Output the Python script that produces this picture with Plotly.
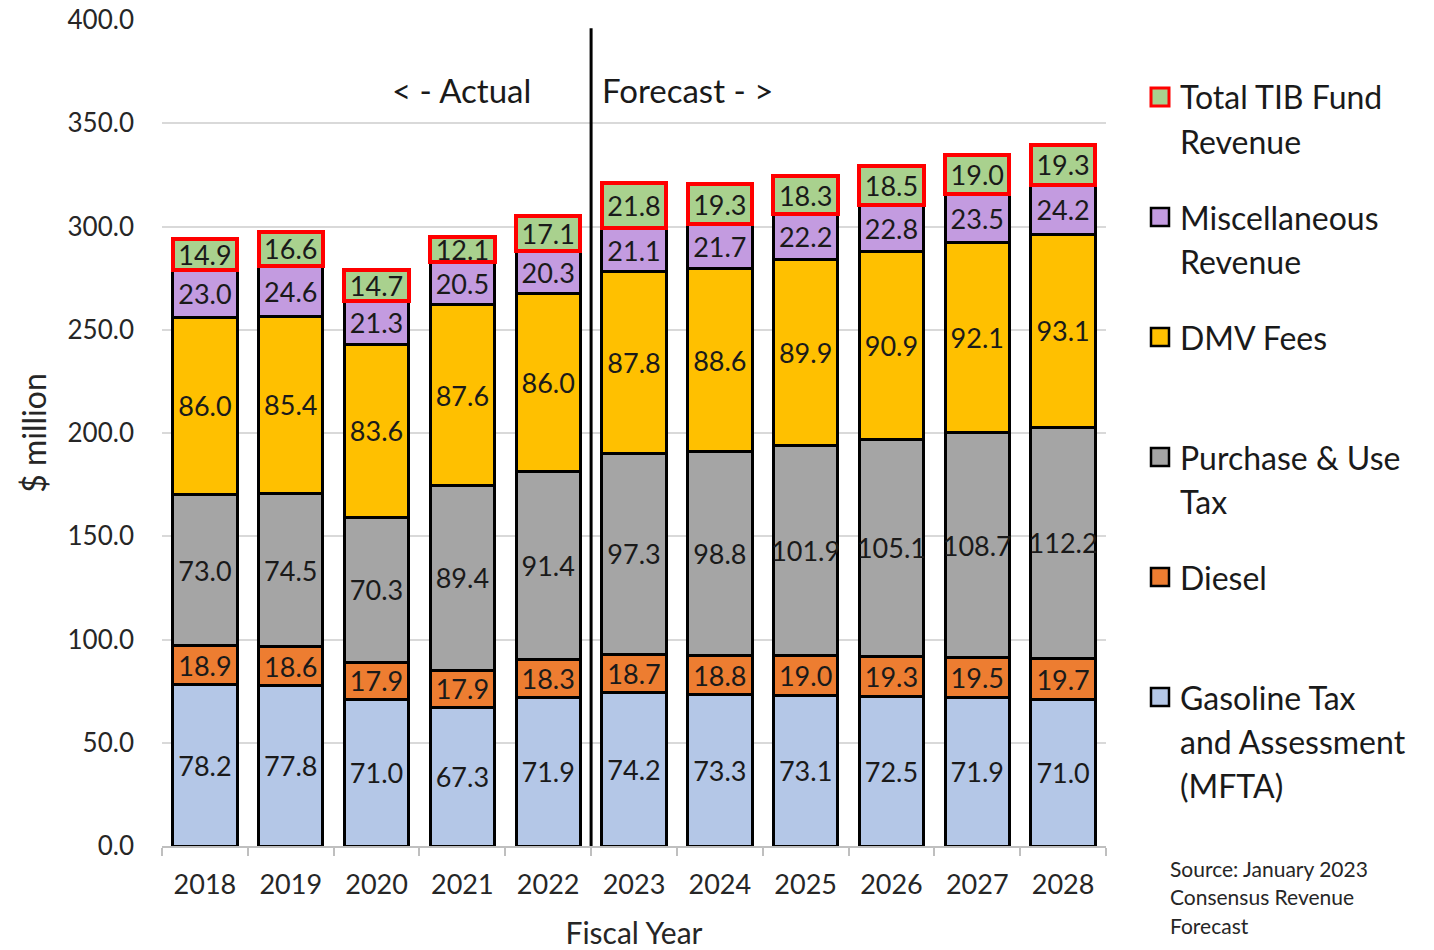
import plotly.graph_objects as go

years = ["2018", "2019", "2020", "2021", "2022", "2023", "2024", "2025", "2026", "2027", "2028"]
gasoline = [78.2, 77.8, 71.0, 67.3, 71.9, 74.2, 73.3, 73.1, 72.5, 71.9, 71.0]
diesel = [18.9, 18.6, 17.9, 17.9, 18.3, 18.7, 18.8, 19.0, 19.3, 19.5, 19.7]
purchase_use = [73.0, 74.5, 70.3, 89.4, 91.4, 97.3, 98.8, 101.9, 105.1, 108.7, 112.2]
dmv_fees = [86.0, 85.4, 83.6, 87.6, 86.0, 87.8, 88.6, 89.9, 90.9, 92.1, 93.1]
misc = [23.0, 24.6, 21.3, 20.5, 20.3, 21.1, 21.7, 22.2, 22.8, 23.5, 24.2]
total_tib = [14.9, 16.6, 14.7, 12.1, 17.1, 21.8, 19.3, 18.3, 18.5, 19.0, 19.3]

series = [
    ("Gasoline Tax and Assessment (MFTA)", gasoline, "#B4C7E7", "black", 3,
     ["Gasoline Tax", "and Assessment", "(MFTA)"]),
    ("Diesel", diesel, "#ED7D31", "black", 3, ["Diesel"]),
    ("Purchase & Use Tax", purchase_use, "#A5A5A5", "black", 3, ["Purchase & Use", "Tax"]),
    ("DMV Fees", dmv_fees, "#FFC000", "black", 3, ["DMV Fees"]),
    ("Miscellaneous Revenue", misc, "#C39BE0", "black", 3, ["Miscellaneous", "Revenue"]),
    ("Total TIB Fund Revenue", total_tib, "#A9D18E", "#FF0000", 4, ["Total TIB Fund", "Revenue"]),
]

FONT = "Lato, 'Open Sans', sans-serif"
W, H = 1434, 950
L, R, T, B = 162, 1106, 20, 846

def px(x):
    return (x - L) / (R - L)

def py(y):
    return (B - y) / (B - T)

fig = go.Figure()
for name, vals, col, lcol, lw, _ in series:
    fig.add_trace(go.Bar(
        x=years, y=vals, name=name,
        marker=dict(color=col, line=dict(color=lcol, width=lw)),
        text=[f"{v:.1f}" for v in vals],
        textposition="inside", insidetextanchor="middle", textangle=0,
        textfont=dict(family=FONT, size=27, color="#1a1a1a"),
        cliponaxis=False, showlegend=False,
    ))

shapes = [dict(type="line", xref="x", yref="y", x0=4.5, x1=4.5, y0=0, y1=396,
               line=dict(color="black", width=3))]
annotations = [
    dict(text="< - Actual", xref="x", yref="y", x=3.82, y=366, xanchor="right",
         showarrow=False, font=dict(family=FONT, size=33, color="#1a1a1a")),
    dict(text="Forecast - >", xref="x", yref="y", x=4.6, y=366, xanchor="left",
         showarrow=False, font=dict(family=FONT, size=33, color="#1a1a1a")),
]

# custom legend
leg_y = [697, 577, 457, 337, 217, 97]
for (name, vals, col, lcol, lw, lines), y0 in zip(series, leg_y):
    s = 9
    shapes.append(dict(type="rect", xref="paper", yref="paper",
                       x0=px(1160 - s), x1=px(1160 + s), y0=py(y0 + s), y1=py(y0 - s),
                       fillcolor=col, line=dict(color=lcol, width=3 if lcol != "black" else 2.5)))
    for i, ln in enumerate(lines):
        annotations.append(dict(text=ln, xref="paper", yref="paper", x=px(1178), y=py(y0 + 44 * i),
                                xanchor="left", yanchor="middle", showarrow=False,
                                font=dict(family=FONT, size=32, color="#1a1a1a")))

for i, ln in enumerate(["Source: January 2023", "Consensus Revenue", "Forecast"]):
    annotations.append(dict(text=ln, xref="paper", yref="paper", x=px(1168), y=py(868 + 28.5 * i),
                            xanchor="left", yanchor="middle", showarrow=False,
                            font=dict(family=FONT, size=21, color="#262626")))

fig.update_layout(
    width=W, height=H, barmode="stack", bargap=0.25,
    plot_bgcolor="white", paper_bgcolor="white",
    margin=dict(l=L, r=W - R, t=T, b=H - B),
    font=dict(family=FONT, color="#262626"),
    uniformtext=dict(minsize=27, mode="show"),
    shapes=shapes, annotations=annotations,
    xaxis=dict(type="category", tickfont=dict(size=27), showline=True, linecolor="#BFBFBF", linewidth=2,
               ticks="outside", tickson="boundaries", ticklen=8, tickcolor="#BFBFBF", tickwidth=2,
               automargin=False, ticklabelstandoff=14,
               title=dict(text="Fiscal Year", font=dict(size=30), standoff=24)),
    yaxis=dict(range=[0, 400], dtick=50, tickformat=".1f", tickfont=dict(size=26),
               gridcolor="#D9D9D9", gridwidth=2, zeroline=False, ticklabelstandoff=27,
               automargin=False,
               title=dict(text="$ million", font=dict(size=32), standoff=11)),
)

fig.write_html("out.html", config={"displayModeBar": False},
               post_script="document.body.style.margin='0';")
